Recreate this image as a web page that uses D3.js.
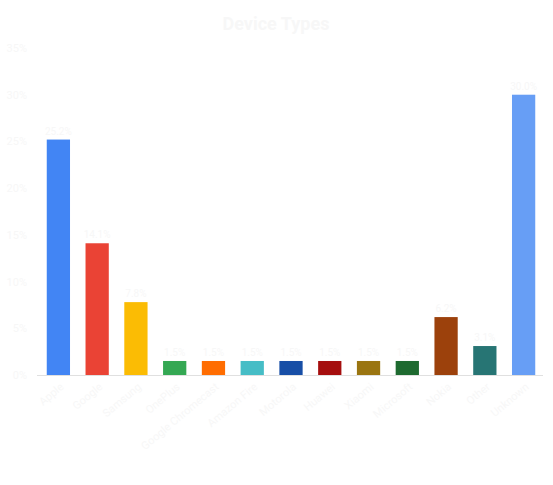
<!DOCTYPE html><html><head><meta charset="utf-8"><script src="https://cdn.jsdelivr.net/npm/d3@7"></script>
<style>body{margin:0;background:#fff;font-family:Roboto,sans-serif}</style></head><body><svg id="c" width="553" height="485"></svg>
<script>
const categories=["Apple","Google","Samsung","OnePlus","Google Chromecast","Amazon Fire","Motorola","Huawei","Xiaomi","Microsoft","Nokia","Other","Unknown"];
const values=[25.2,14.1,7.8,1.5,1.5,1.5,1.5,1.5,1.5,1.5,6.2,3.1,30.0];
const colors=["#4285f4","#ea4335","#fbbc04","#34a853","#ff6d01","#46bdc6","#174ea6","#a50e0e","#9a7511","#1e6a30","#9c410c","#277574","#679ef5"];
const yTicks=[0,5,10,15,20,25,30,35];
const svg=d3.select("#c"), tc="#f7f7f7";
const x=d3.scaleBand().domain(categories).range([39,543]).paddingInner(0.4).paddingOuter(0.2);
const y=d3.scaleLinear().domain([0,35]).range([375,48]);
svg.append("text").attr("x",276).attr("y",30).attr("text-anchor","middle").attr("font-size",18).attr("font-weight","bold").attr("fill",tc).text("Device Types");
yTicks.forEach(t=>{svg.append("text").attr("x",27).attr("y",y(t)+4).attr("text-anchor","end").attr("font-size",11).attr("fill",tc).text(t+"%");});
svg.selectAll("rect").data(values).join("rect").attr("x",(d,i)=>x(categories[i])).attr("width",x.bandwidth()).attr("y",d=>y(d)).attr("height",d=>375-y(d)).attr("fill",(d,i)=>colors[i]);
svg.append("line").attr("x1",37).attr("x2",543).attr("y1",375.5).attr("y2",375.5).attr("stroke","#e0e0e0");
svg.selectAll(".v").data(values).join("text").attr("x",(d,i)=>x(categories[i])+x.bandwidth()/2).attr("y",d=>y(d)-5).attr("text-anchor","middle").attr("font-size",10).attr("fill",tc).text(d=>d.toFixed(1)+"%");
categories.forEach(c=>{svg.append("text").attr("transform",`translate(${x(c)+x.bandwidth()/2+6},${388}) rotate(-40)`).attr("text-anchor","end").attr("font-size",11).attr("fill",tc).text(c);});
</script></body></html>
